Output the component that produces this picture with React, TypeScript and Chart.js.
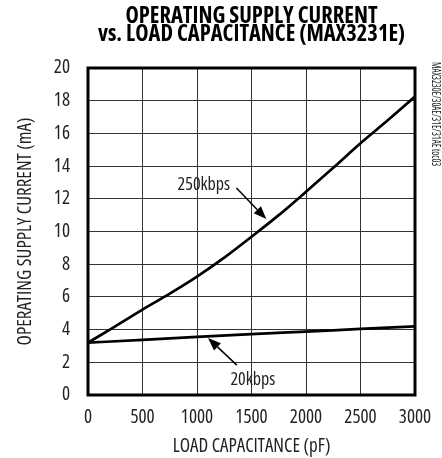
import React, { useEffect, useRef } from "react";
import { Chart, registerables } from "chart.js";
Chart.register(...registerables);

const FONT = '"Open Sans", "Noto Sans", sans-serif';
const COND = "condensed";
const BOLD_COND = "bold condensed";

const titleLines = ["OPERATING SUPPLY CURRENT", "vs. LOAD CAPACITANCE (MAX3231E)"];
const xTitle = "LOAD CAPACITANCE (pF)";
const yTitle = "OPERATING SUPPLY CURRENT (mA)";
const sideNote = "MAX3230E/30AE/31E/31AE toc03";

const cap250 = [0, 250, 500, 750, 1000, 1250, 1500, 1750, 2000, 2250, 2500, 2750, 3000];
const current250 = [3.2, 4.2, 5.22, 6.2, 7.24, 8.4, 9.68, 11.0, 12.43, 13.9, 15.4, 16.8, 18.25];
const cap20 = [0, 500, 1000, 1500, 2000, 2500, 3000];
const current20 = [3.2, 3.37, 3.55, 3.72, 3.88, 4.04, 4.2];

const labelTexts = ["250kbps", "20kbps"];
const labelX = [1063, 1512];
const labelY = [12.84, 0.92];
const arrowFromX = [1362, 1365];
const arrowFromY = [12.66, 1.83];
const arrowToX = [1636, 1101];
const arrowToY = [10.76, 3.49];

const framePlugin = {
  id: "frame",
  beforeDatasetsDraw(chart: any) {
    const { ctx, chartArea } = chart;
    ctx.save();
    ctx.strokeStyle = "#000";
    ctx.lineWidth = 3;
    ctx.strokeRect(chartArea.left, chartArea.top, chartArea.right - chartArea.left, chartArea.bottom - chartArea.top);
    ctx.restore();
  },
};

const annotPlugin = {
  id: "annot",
  afterDatasetsDraw(chart: any) {
    const { ctx, scales } = chart;
    const xs = scales.x;
    const ys = scales.y;
    ctx.save();
    ctx.font = `${COND} 18px ${FONT}`;
    ctx.textAlign = "center";
    ctx.textBaseline = "middle";
    labelTexts.forEach((t, i) => {
      ctx.fillStyle = "#222";
      ctx.fillText(t, xs.getPixelForValue(labelX[i]), ys.getPixelForValue(labelY[i]));
      const x1 = xs.getPixelForValue(arrowFromX[i]);
      const y1 = ys.getPixelForValue(arrowFromY[i]);
      const x2 = xs.getPixelForValue(arrowToX[i]);
      const y2 = ys.getPixelForValue(arrowToY[i]);
      const ang = Math.atan2(y2 - y1, x2 - x1);
      const hl = 13;
      const hw = 5;
      const bx = x2 - hl * Math.cos(ang);
      const by = y2 - hl * Math.sin(ang);
      ctx.strokeStyle = "#000";
      ctx.lineWidth = 1.5;
      ctx.beginPath();
      ctx.moveTo(x1, y1);
      ctx.lineTo(bx, by);
      ctx.stroke();
      ctx.fillStyle = "#000";
      ctx.beginPath();
      ctx.moveTo(x2, y2);
      ctx.lineTo(bx + hw * Math.sin(ang), by - hw * Math.cos(ang));
      ctx.lineTo(bx - hw * Math.sin(ang), by + hw * Math.cos(ang));
      ctx.closePath();
      ctx.fill();
    });
    ctx.font = `${COND} 13px ${FONT}`;
    ctx.fillStyle = "#222";
    ctx.textAlign = "left";
    ctx.textBaseline = "middle";
    ctx.translate(chart.chartArea.right + 21, chart.chartArea.top - 6);
    ctx.rotate(Math.PI / 2);
    ctx.scale(0.7, 1);
    ctx.fillText(sideNote, 0, 0);
    ctx.restore();
  },
};

export default function App() {
  const ref = useRef<HTMLCanvasElement>(null);
  useEffect(() => {
    const chart = new Chart(ref.current!, {
      type: "line",
      data: {
        datasets: [
          {
            label: "250kbps",
            data: cap250.map((x, i) => ({ x, y: current250[i] })),
            borderColor: "#000",
            borderWidth: 2.7,
            pointRadius: 0,
            cubicInterpolationMode: "monotone",
            fill: false,
          },
          {
            label: "20kbps",
            data: cap20.map((x, i) => ({ x, y: current20[i] })),
            borderColor: "#000",
            borderWidth: 2.7,
            pointRadius: 0,
            cubicInterpolationMode: "monotone",
            fill: false,
          },
        ],
      },
      options: {
        animation: false,
        responsive: false,
        layout: { padding: { left: 0, right: 27, top: 0, bottom: 0 } },
        plugins: {
          legend: { display: false },
          tooltip: { enabled: false },
          title: {
            display: true,
            fullSize: false,
            text: titleLines,
            color: "#000",
            font: { family: FONT, size: 22.5, weight: BOLD_COND, lineHeight: "17.5px" } as any,
            padding: { top: 8, bottom: 25 },
          },
        },
        scales: {
          x: {
            type: "linear",
            min: 0,
            max: 3000,
            ticks: {
              stepSize: 500,
              color: "#222",
              font: { family: FONT, size: 19, weight: COND },
              padding: 3,
              callback: (v: any) => String(v),
            },
            grid: { color: "#333", lineWidth: 1, drawTicks: true, tickLength: 8, tickColor: "rgba(0,0,0,0)" },
            border: { display: false },
            title: {
              display: true,
              text: xTitle,
              color: "#222",
              font: { family: FONT, size: 19, weight: COND },
              padding: { top: 0, bottom: 0 },
            },
            afterFit(scale: any) {
              scale.height = 63;
            },
          },
          y: {
            type: "linear",
            min: 0,
            max: 20,
            ticks: {
              stepSize: 2,
              color: "#222",
              font: { family: FONT, size: 19, weight: COND },
              padding: 3,
              callback: (v: any) => String(v),
            },
            grid: { color: "#333", lineWidth: 1, drawTicks: true, tickLength: 15, tickColor: "rgba(0,0,0,0)" },
            border: { display: false },
            title: {
              display: true,
              text: yTitle,
              color: "#222",
              font: { family: FONT, size: 19, weight: COND },
              padding: { top: 14, bottom: 0 },
            },
            afterFit(scale: any) {
              scale.width = 88;
            },
          },
        },
      },
      plugins: [framePlugin, annotPlugin],
    } as any);
    return () => chart.destroy();
  }, []);
  return (
    <div style={{ position: "absolute", left: 0, top: 0, width: 442, height: 458, background: "#fff" }}>
      <canvas ref={ref} width={442} height={458} style={{ display: "block" }} />
    </div>
  );
}
